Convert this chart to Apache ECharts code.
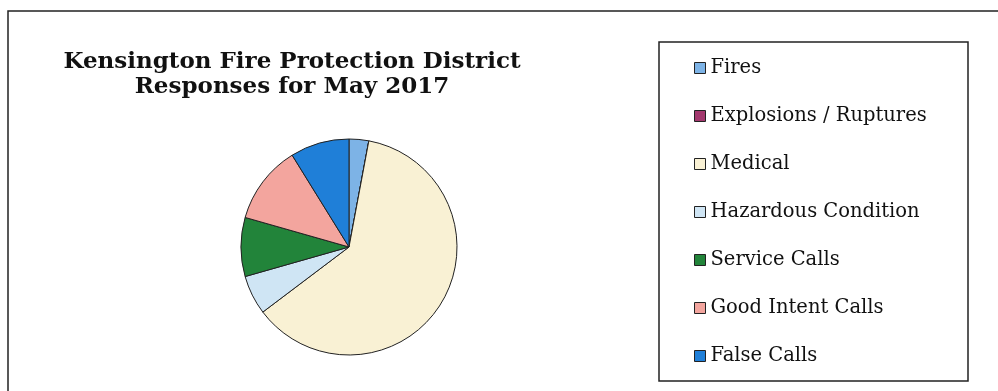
<!DOCTYPE html>
<html>
<head>
<meta charset="utf-8">
<script src="https://cdn.jsdelivr.net/npm/echarts@6/dist/echarts.min.js"></script>
<style>
html,body{margin:0;padding:0;background:#fff;}
#chart{width:998px;height:391px;}
</style>
</head>
<body>
<div id="chart"></div>
<script>
const titleLines = ['Kensington Fire Protection District', 'Responses for May 2017'];
const categories = ['Fires', 'Explosions / Ruptures', 'Medical', 'Hazardous Condition', 'Service Calls', 'Good Intent Calls', 'False Calls'];
const responses = [1, 0, 21, 2, 3, 4, 3];
const colors = ['#7db3e6', '#a3386e', '#f9f1d4', '#cfe5f4', '#22843a', '#f3a59e', '#1f7fd8'];

const chart = echarts.init(document.getElementById('chart'));
chart.setOption({
  animation: false,
  backgroundColor: '#ffffff',
  title: {
    text: titleLines.join('\n'),
    left: 292,
    top: 50,
    textAlign: 'center',
    padding: 0,
    textStyle: {
      fontFamily: 'DejaVu Serif',
      fontWeight: 'bold',
      fontSize: 23,
      lineHeight: 25,
      color: '#111'
    }
  },
  graphic: [
    { type: 'rect', shape: { x: 8, y: 11, width: 1100, height: 500 }, style: { fill: 'none', stroke: '#222', lineWidth: 1.5 }, silent: true },
    { type: 'rect', shape: { x: 659, y: 42, width: 309, height: 339 }, style: { fill: 'none', stroke: '#222', lineWidth: 1.5 }, silent: true }
  ],
  legend: {
    orient: 'vertical',
    left: 694,
    top: 57,
    padding: 0,
    itemWidth: 11,
    itemHeight: 11,
    itemGap: 26,
    icon: 'rect',
    itemStyle: { borderColor: '#222', borderWidth: 1 },
    textStyle: {
      fontFamily: 'DejaVu Serif',
      fontSize: 19.5,
      lineHeight: 22,
      color: '#111'
    },
    data: categories
  },
  series: [{
    type: 'pie',
    center: [349, 247],
    radius: 108,
    startAngle: 90,
    clockwise: true,
    label: { show: false },
    labelLine: { show: false },
    emphasis: { disabled: true },
    itemStyle: { borderColor: '#222', borderWidth: 1 },
    data: categories.map((name, i) => ({ name, value: responses[i], itemStyle: { color: colors[i] } }))
  }]
});
</script>
</body>
</html>
